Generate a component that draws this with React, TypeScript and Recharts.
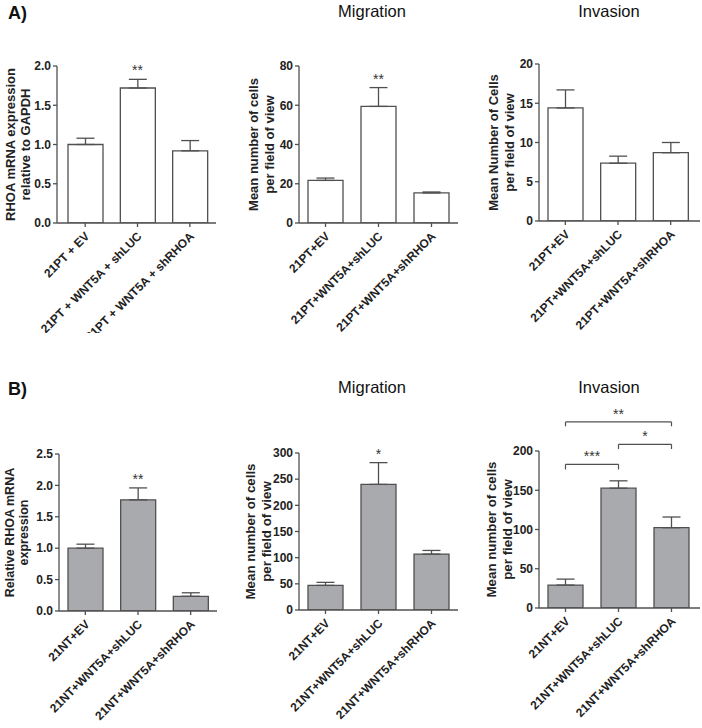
import React from 'react';
import { BarChart, Bar, XAxis, YAxis, ErrorBar, ReferenceDot, ReferenceLine } from 'recharts';

// ---------- data ----------
const catsA1 = ['21PT + EV', '21PT + WNT5A + shLUC', '21PT + WNT5A + shRHOA'];
const catsA = ['21PT+EV', '21PT+WNT5A+shLUC', '21PT+WNT5A+shRHOA'];
const catsB = ['21NT+EV', '21NT+WNT5A+shLUC', '21NT+WNT5A+shRHOA'];

const a1Mean = [1.0, 1.72, 0.92];
const a1Sem = [0.08, 0.11, 0.13];
const a1Sig = ['', '**', ''];
const a1Ticks = [0, 0.5, 1.0, 1.5, 2.0];

const a2Mean = [21.7, 59.4, 15.3];
const a2Sem = [1.2, 9.6, 0.5];
const a2Sig = ['', '**', ''];
const a2Ticks = [0, 20, 40, 60, 80];

const a3Mean = [14.4, 7.36, 8.7];
const a3Sem = [2.3, 0.9, 1.3];
const a3Sig = ['', '', ''];
const a3Ticks = [0, 5, 10, 15, 20];

const b1Mean = [1.0, 1.77, 0.234];
const b1Sem = [0.064, 0.19, 0.056];
const b1Sig = ['', '**', ''];
const b1Ticks = [0, 0.5, 1.0, 1.5, 2.0, 2.5];

const b2Mean = [47, 240, 106.8];
const b2Sem = [5.8, 41.6, 7];
const b2Sig = ['', '*', ''];
const b2Ticks = [0, 50, 100, 150, 200, 250, 300];

const b3Mean = [29.2, 152.6, 102.3];
const b3Sem = [7.6, 9.4, 13.6];
const b3Sig = ['', '', ''];
const b3Ticks = [0, 50, 100, 150, 200];
// comparison brackets: from/to category index, bracket level (data units), drop (data units), label
const b3Brackets = [
  { from: 0, to: 2, level: 237, drop: 5.5, label: '**' },
  { from: 1, to: 2, level: 208.5, drop: 6, label: '*' },
  { from: 0, to: 1, level: 183, drop: 6.5, label: '***' },
];

// ---------- styling ----------
const FONT = '"Liberation Sans", Arial, Helvetica, sans-serif';
const AXIS = '#505050';
const TXT = '#222';
const WHITE = '#ffffff';
const GREY = '#a9aaae';

type PanelProps = {
  left: number; top: number; width: number; height: number;
  plotLeft: number; plotTop: number; plotBottom: number; plotRight: number;
  padL?: number; padR?: number;
  cats: string[]; mean: number[]; sem: number[]; sig: string[];
  ticks: number[]; decimals: number; fill: string;
  yLines: string[]; yX: number[]; yFont: number;
  brackets?: { from: number; to: number; level: number; drop: number; label: string }[];
};

const CatTick = (props: any) => {
  const { x, y, payload } = props;
  const ax = x + 5;
  const ay = y + 8;
  return (
    <text x={ax} y={ay} transform={`rotate(-45, ${ax}, ${ay})`} textAnchor="end"
      fontSize={12} fontWeight="bold" fill={TXT} fontFamily={FONT}>
      {payload.value}
    </text>
  );
};

const makeYLabel = (lines: string[], xs: number[], cy: number, fs: number) => () => (
  <g>
    {lines.map((t, i) => (
      <text key={i} x={xs[i]} y={cy} transform={`rotate(-90, ${xs[i]}, ${cy})`}
        textAnchor="middle" dominantBaseline="central" fontSize={fs} fontWeight="bold"
        fill={TXT} fontFamily={FONT}>{t}</text>
    ))}
  </g>
);

function Panel(p: PanelProps) {
  const xAxisH = 100;
  const data = p.cats.map((c, i) => ({
    name: c,
    mean: p.mean[i],
    err: [0, p.sem[i]],
    top: p.mean[i] + p.sem[i],
    sig: p.sig[i],
  }));
  const margin = {
    top: p.plotTop - p.top,
    left: 0,
    right: p.left + p.width - p.plotRight,
    bottom: p.height - (p.plotBottom - p.top) - xAxisH,
  };
  const max = p.ticks[p.ticks.length - 1];
  const cy = (p.plotTop + p.plotBottom) / 2 - p.top;
  const xs = p.yX.map(x => x - p.left);
  return (
    <div style={{ position: 'absolute', left: p.left, top: p.top }}>
      <BarChart width={p.width} height={p.height} data={data} margin={margin}>
        <XAxis dataKey="name" type="category" interval={0} height={xAxisH}
          tick={<CatTick />} tickSize={4} tickMargin={2}
          padding={{ left: p.padL || 0, right: p.padR || 0 }}
          axisLine={{ stroke: AXIS, strokeWidth: 1.3 }} tickLine={{ stroke: AXIS, strokeWidth: 1.3 }} />
        <YAxis type="number" domain={[0, max]} ticks={p.ticks} allowDataOverflow
          width={p.plotLeft - p.left} tickSize={4} tickMargin={2}
          tickFormatter={(v: number) => v.toFixed(p.decimals)}
          tick={{ fontSize: 12, fontWeight: 'bold', fill: TXT, fontFamily: FONT }}
          axisLine={{ stroke: AXIS, strokeWidth: 1.3 }} tickLine={{ stroke: AXIS, strokeWidth: 1.3 }}
          label={makeYLabel(p.yLines, xs, cy, p.yFont)} />
        <Bar dataKey="mean" barSize={35} fill={p.fill} stroke={AXIS} strokeWidth={1.3}
          isAnimationActive={false}>
          <ErrorBar dataKey="err" width={9} stroke={AXIS} strokeWidth={1.3} direction="y" />
        </Bar>
        {data.filter(d => d.sig).map(d => (
          <ReferenceDot key={'s' + d.name} x={d.name} y={d.top} r={0} stroke="none" fill="none"
            ifOverflow="visible"
            label={{ value: d.sig, position: 'top', offset: 4, fontSize: 14, fill: '#333', fontFamily: FONT }} />
        ))}
        {(p.brackets || []).map((b, i) => (
          <ReferenceLine key={'b' + i} ifOverflow="visible" stroke={AXIS} strokeWidth={1.2}
            segment={[{ x: p.cats[b.from], y: b.level }, { x: p.cats[b.to], y: b.level }]}
            label={{ value: b.label, position: 'top', offset: 3, fontSize: 14, fill: '#333', fontFamily: FONT }} />
        ))}
        {(p.brackets || []).map((b, i) => (
          <ReferenceLine key={'l' + i} ifOverflow="visible" stroke={AXIS} strokeWidth={1.2}
            segment={[{ x: p.cats[b.from], y: b.level }, { x: p.cats[b.from], y: b.level - b.drop }]} />
        ))}
        {(p.brackets || []).map((b, i) => (
          <ReferenceLine key={'r' + i} ifOverflow="visible" stroke={AXIS} strokeWidth={1.2}
            segment={[{ x: p.cats[b.to], y: b.level }, { x: p.cats[b.to], y: b.level - b.drop }]} />
        ))}
      </BarChart>
    </div>
  );
}

export default function App() {
  return (
    <div style={{ position: 'absolute', left: 0, top: 0, width: 702, height: 728, background: '#fff', overflow: 'hidden' }}>
      <Panel left={0} top={0} width={230} height={333} plotLeft={57} plotTop={66} plotBottom={223} plotRight={216}
        padL={2} cats={catsA1} mean={a1Mean} sem={a1Sem} sig={a1Sig} ticks={a1Ticks} decimals={1} fill={WHITE}
        yLines={['RHOA mRNA expression', 'relative to GAPDH']} yX={[10, 25]} yFont={13} />
      <Panel left={230} top={0} width={230} height={333} plotLeft={299} plotTop={66} plotBottom={223} plotRight={458}
        cats={catsA} mean={a2Mean} sem={a2Sem} sig={a2Sig} ticks={a2Ticks} decimals={0} fill={WHITE}
        yLines={['Mean number of cells', 'per field of view']} yX={[253, 269]} yFont={13} />
      <Panel left={460} top={0} width={242} height={333} plotLeft={539} plotTop={64} plotBottom={221} plotRight={700}
        padR={3} cats={catsA} mean={a3Mean} sem={a3Sem} sig={a3Sig} ticks={a3Ticks} decimals={0} fill={WHITE}
        yLines={['Mean Number of Cells', 'per field of view']} yX={[493, 509]} yFont={13} />
      <Panel left={0} top={340} width={230} height={388} plotLeft={59} plotTop={454} plotBottom={611} plotRight={217}
        cats={catsB} mean={b1Mean} sem={b1Sem} sig={b1Sig} ticks={b1Ticks} decimals={1} fill={GREY}
        yLines={['Relative RHOA mRNA', 'expression']} yX={[10, 24]} yFont={12.5} />
      <Panel left={230} top={340} width={230} height={388} plotLeft={299} plotTop={453} plotBottom={610} plotRight={458}
        cats={catsB} mean={b2Mean} sem={b2Sem} sig={b2Sig} ticks={b2Ticks} decimals={0} fill={GREY}
        yLines={['Mean number of cells', 'per field of view']} yX={[250, 266]} yFont={13.3} />
      <Panel left={460} top={340} width={242} height={388} plotLeft={539} plotTop={451} plotBottom={608} plotRight={700}
        padR={2} cats={catsB} mean={b3Mean} sem={b3Sem} sig={b3Sig} ticks={b3Ticks} decimals={0} fill={GREY}
        yLines={['Mean number of cells', 'per field of view']} yX={[491, 507]} yFont={13.3} brackets={b3Brackets} />
      <svg width={702} height={728} style={{ position: 'absolute', left: 0, top: 0, pointerEvents: 'none' }}>
        <text x={8} y={19} fontSize={18} fontWeight="bold" fill="#111" fontFamily={FONT}>A)</text>
        <text x={8} y={395} fontSize={18} fontWeight="bold" fill="#111" fontFamily={FONT}>B)</text>
        <text x={372} y={17} fontSize={16.5} textAnchor="middle" fill="#111" fontFamily={FONT}>Migration</text>
        <text x={609} y={17} fontSize={16.5} textAnchor="middle" fill="#111" fontFamily={FONT}>Invasion</text>
        <text x={372} y={393} fontSize={16.5} textAnchor="middle" fill="#111" fontFamily={FONT}>Migration</text>
        <text x={609} y={393} fontSize={16.5} textAnchor="middle" fill="#111" fontFamily={FONT}>Invasion</text>
      </svg>
    </div>
  );
}
